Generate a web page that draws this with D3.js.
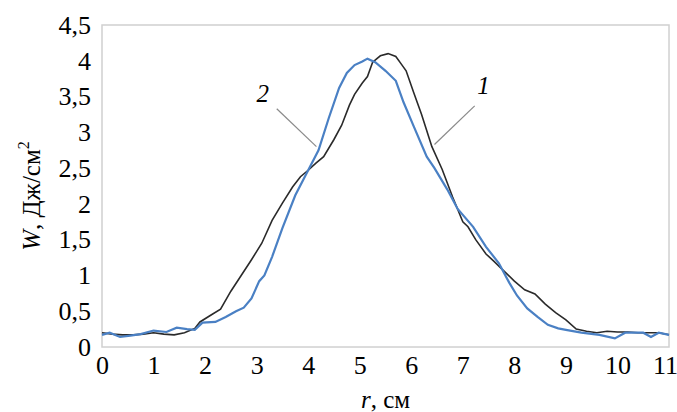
<!DOCTYPE html>
<html>
<head>
<meta charset="utf-8">
<script src="https://cdn.jsdelivr.net/npm/d3@7"></script>
<style>
  body { margin: 0; background: #fff; }
  svg text { font-family: "Liberation Serif", serif; fill: #000; }
</style>
</head>
<body>
<div id="chart"></div>
<script>
// curve 1 (black)
var r1 = [0, 0.2, 0.4, 0.6, 0.8, 1.0, 1.2, 1.4, 1.6, 1.8, 1.9, 2.1, 2.3, 2.5, 2.7, 2.9, 3.1, 3.3, 3.5, 3.7, 3.85,
  4.0, 4.15, 4.3, 4.5, 4.65, 4.8, 4.9, 5.05, 5.15, 5.25, 5.4, 5.55, 5.7, 5.8, 5.9, 6.05, 6.2, 6.4, 6.6, 6.8,
  7.0, 7.1, 7.25, 7.45, 7.6, 7.8, 8.0, 8.2, 8.4, 8.6, 8.8, 9.0, 9.2, 9.4, 9.6, 9.8, 10.0, 10.2, 10.4, 10.6, 10.8, 11.0];
var w1 = [0.2, 0.18, 0.17, 0.17, 0.18, 0.2, 0.18, 0.17, 0.2, 0.26, 0.35, 0.44, 0.53, 0.78, 1.0, 1.22, 1.45, 1.77, 2.01, 2.24, 2.38,
  2.47, 2.57, 2.66, 2.9, 3.1, 3.38, 3.53, 3.69, 3.78, 3.98, 4.07, 4.1, 4.06, 3.96, 3.86, 3.55, 3.25, 2.8, 2.48, 2.1,
  1.75, 1.68, 1.5, 1.3, 1.2, 1.06, 0.92, 0.8, 0.74, 0.6, 0.48, 0.38, 0.25, 0.22, 0.2, 0.22, 0.21, 0.21, 0.2, 0.2, 0.2, 0.17];

// curve 2 (blue)
var r2 = [0, 0.15, 0.35, 0.55, 0.75, 1.0, 1.25, 1.45, 1.65, 1.8, 1.95, 2.2, 2.4, 2.6, 2.75, 2.9, 3.05, 3.15, 3.3, 3.5,
  3.75, 3.95, 4.2, 4.4, 4.6, 4.75, 4.9, 5.05, 5.15, 5.3, 5.5, 5.7, 5.85, 6.05, 6.3, 6.45, 6.7, 6.9, 7.2, 7.45,
  7.7, 7.9, 8.05, 8.25, 8.45, 8.65, 8.85, 9.0, 9.3, 9.65, 9.95, 10.15, 10.5, 10.65, 10.8, 11.0];
var w2 = [0.17, 0.2, 0.14, 0.16, 0.18, 0.23, 0.21, 0.27, 0.25, 0.24, 0.34, 0.35, 0.42, 0.5, 0.55, 0.68, 0.92, 1.0, 1.26, 1.66,
  2.12, 2.4, 2.75, 3.2, 3.62, 3.83, 3.94, 3.99, 4.03, 3.98, 3.86, 3.72, 3.42, 3.08, 2.66, 2.5, 2.2, 1.93, 1.68, 1.4,
  1.17, 0.9, 0.72, 0.54, 0.42, 0.31, 0.26, 0.24, 0.2, 0.17, 0.12, 0.2, 0.2, 0.14, 0.2, 0.17];

var xTicks = [0, 1, 2, 3, 4, 5, 6, 7, 8, 9, 10, 11];
var yTicks = [0, 0.5, 1, 1.5, 2, 2.5, 3, 3.5, 4, 4.5];

// curve labels: [label, label r, label W, line start r, W, line end r, W]
var curveLabels = [
  ["1", 7.4, 3.66, 7.23, 3.37, 6.45, 2.83],
  ["2", 3.12, 3.55, 3.39, 3.33, 4.16, 2.8]
];

var width = 677, height = 412;
var margin = {top: 25, right: 8, bottom: 65, left: 102};
var serif = "'Liberation Serif', serif";

var svg = d3.select("#chart").append("svg")
  .attr("width", width)
  .attr("height", height);

var x = d3.scaleLinear().domain([0, 11]).range([margin.left, width - margin.right]);
var y = d3.scaleLinear().domain([0, 4.5]).range([height - margin.bottom, margin.top]);

// plot frame
svg.append("rect")
  .attr("x", x(0)).attr("y", y(4.5))
  .attr("width", x(11) - x(0)).attr("height", y(0) - y(4.5))
  .attr("fill", "none").attr("stroke", "#d0d0d0").attr("stroke-width", 1.5);

var fmt = function (d) { return String(d).replace(".", ","); };

var xAxis = svg.append("g")
  .attr("transform", "translate(0," + y(0) + ")")
  .call(d3.axisBottom(x).tickValues(xTicks).tickSize(0).tickPadding(8).tickFormat(fmt));
var yAxis = svg.append("g")
  .attr("transform", "translate(" + x(0) + ",0)")
  .call(d3.axisLeft(y).tickValues(yTicks).tickSize(0).tickPadding(11).tickFormat(fmt));
[xAxis, yAxis].forEach(function (g) {
  g.attr("font-family", null).attr("font-size", null);
  g.select(".domain").remove();
  g.selectAll("text").style("font-family", serif).style("font-size", "26px");
});
xAxis.selectAll("text").attr("dy", "0.72em");
// last label sits on the edge
xAxis.selectAll(".tick").filter(function (d) { return d === 11; })
  .select("text").attr("dx", -4);

var line = d3.line()
  .x(function (d) { return x(d[0]); })
  .y(function (d) { return y(d[1]); });

svg.append("path")
  .datum(d3.zip(r1, w1))
  .attr("d", line)
  .attr("fill", "none").attr("stroke", "#2a2a2a").attr("stroke-width", 1.6);

svg.append("path")
  .datum(d3.zip(r2, w2))
  .attr("d", line)
  .attr("fill", "none").attr("stroke", "#4a80c4").attr("stroke-width", 2.2);

// leader lines and labels
curveLabels.forEach(function (c) {
  svg.append("line")
    .attr("x1", x(c[3])).attr("y1", y(c[4]))
    .attr("x2", x(c[5])).attr("y2", y(c[6]))
    .attr("stroke", "#8a8a8a").attr("stroke-width", 1.2);
  svg.append("text")
    .attr("x", x(c[1])).attr("y", y(c[2]))
    .attr("text-anchor", "middle").attr("dy", "0.35em")
    .style("font-family", serif).style("font-size", "25px").style("font-style", "italic")
    .text(c[0]);
});

// axis titles
var xt = svg.append("text")
  .attr("x", (x(0) + x(11)) / 2).attr("y", 408)
  .attr("text-anchor", "middle")
  .style("font-family", serif).style("font-size", "25px");
xt.append("tspan").style("font-style", "italic").text("r");
xt.append("tspan").text(", см");

var yt = svg.append("text")
  .attr("transform", "translate(40," + 196 + ") rotate(-90)")
  .attr("text-anchor", "middle")
  .style("font-family", serif).style("font-size", "25px");
yt.append("tspan").style("font-style", "italic").text("W");
yt.append("tspan").text(", Дж/см");
yt.append("tspan").style("font-size", "16px").attr("dy", "-0.7em").text("2");
</script>
</body>
</html>
